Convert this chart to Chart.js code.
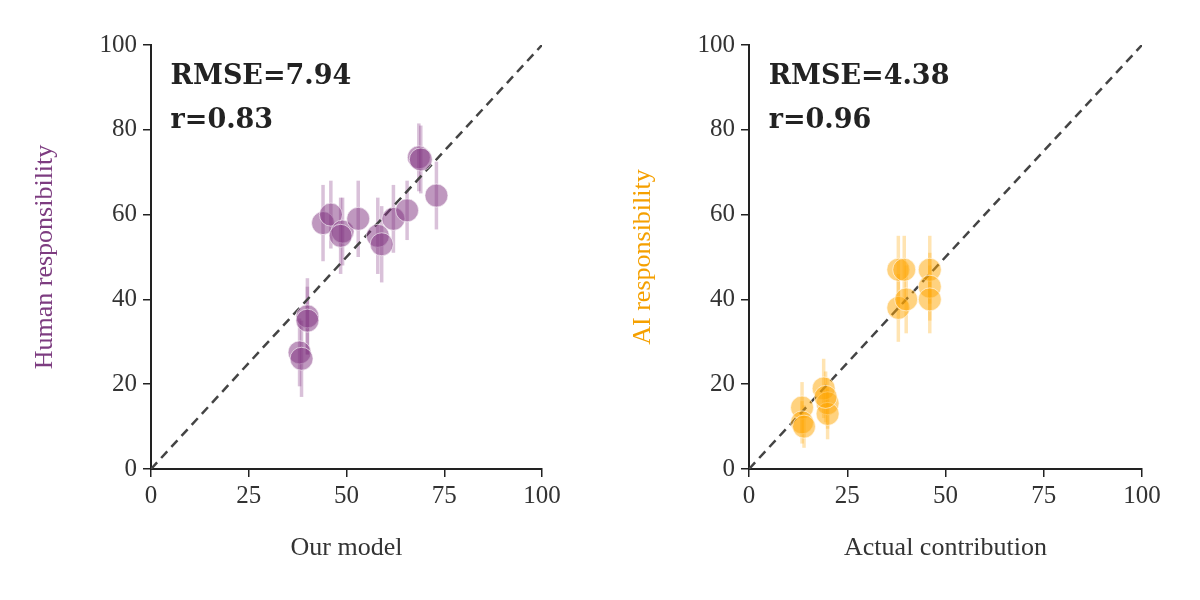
<!DOCTYPE html>
<html><head><meta charset="utf-8">
<script src="https://cdn.jsdelivr.net/npm/chart.js@4.4.0/dist/chart.umd.min.js"></script>
<style>body{margin:0;background:#fff}.w{position:absolute;top:0;width:600px;height:600px}</style>
</head><body>
<div class="w" style="left:0"><canvas id="c1" width="600" height="600"></canvas></div>
<div class="w" style="left:600px"><canvas id="c2" width="600" height="600"></canvas></div>
<script>
const humanX=[38,38.5,40,40,44,46,49,48.5,53,58,59,62,65.5,68.5,69,73];
const humanY=[27.5,26,36,35,58,60,56,55,59,55,53,59,61,73.5,73,64.5];
const humanErr=[8,9,9,8,9,8,8,9,9,9,9,8,7,8,8,8];
const aiX=[13.5,13.5,14,19,20,20,19.5,38,39.5,38,40,46,46,46];
const aiY=[14.5,11,10,19,15.5,13,17,47,47,38,40,47,43,40];
const aiErr=[6,5,5,7,6,6,6,8,8,8,8,8,8,8];
const ticks=[0,25,50,75,100], yticks=[0,20,40,60,80,100];
const FONT="'Liberation Serif','DejaVu Serif',serif";

function make(id,xs,ys,errs,col,colA,colE,xtitle,ytitle,rmse,r,yw){
  const pts=xs.map((x,i)=>({x:x,y:ys[i]}));
  const errPlugin={id:'e',beforeDatasetsDraw(c){
    const ctx=c.ctx,sx=c.scales.x,sy=c.scales.y;ctx.save();ctx.strokeStyle=colE;ctx.lineWidth=3.5;
    xs.forEach((x,i)=>{ctx.beginPath();ctx.moveTo(sx.getPixelForValue(x),sy.getPixelForValue(ys[i]-errs[i]));
      ctx.lineTo(sx.getPixelForValue(x),sy.getPixelForValue(ys[i]+errs[i]));ctx.stroke();});
    ctx.restore();},
    afterDraw(c){const ctx=c.ctx,sx=c.scales.x,sy=c.scales.y,a=c.chartArea;ctx.save();ctx.fillStyle='#222';
      ctx.font="bold 27px 'DejaVu Serif',serif";ctx.textBaseline='middle';
      ctx.fillText('RMSE='+rmse,sx.getPixelForValue(5),sy.getPixelForValue(92.5));
      ctx.fillText('r='+r,sx.getPixelForValue(5),sy.getPixelForValue(82));
      ctx.font="26px "+FONT;ctx.textAlign='center';ctx.fillStyle='#333';
      ctx.fillText(xtitle,(a.left+a.right)/2,548);
      ctx.translate(a.left-106,(a.top+a.bottom)/2);ctx.rotate(-Math.PI/2);ctx.fillStyle=col;
      ctx.fillText(ytitle,0,0);ctx.restore();}};
  new Chart(document.getElementById(id),{type:'scatter',
    data:{datasets:[
      {data:pts,backgroundColor:colA,borderColor:'rgba(255,255,255,0.6)',borderWidth:1,pointRadius:11.5},
      {type:'line',data:[{x:0,y:0},{x:100,y:100}],borderColor:'#444',borderWidth:2.5,borderDash:[9,6],pointRadius:0}]},
    options:{responsive:false,animation:false,layout:{padding:{top:45,right:58,left:0,bottom:0}},
      plugins:{legend:{display:false},tooltip:{enabled:false}},
      scales:{
        x:{type:'linear',min:0,max:100,afterBuildTicks(a){a.ticks=ticks.map(v=>({value:v}));},
          afterFit(a){a.height=131;},
          grid:{drawOnChartArea:false,tickLength:8,color:'#222',lineWidth:1.5},border:{color:'#222',width:2},
          ticks:{color:'#333',font:{family:FONT,size:25},padding:4}},
        y:{min:0,max:100,afterBuildTicks(a){a.ticks=yticks.map(v=>({value:v}));},
          afterFit(a){a.width=yw;},
          grid:{drawOnChartArea:false,tickLength:8,color:'#222',lineWidth:1.5},border:{color:'#222',width:2},
          ticks:{color:'#333',font:{family:FONT,size:25},padding:6}}}},
    plugins:[errPlugin]});
}
make('c1',humanX,humanY,humanErr,'#7d3c80','rgba(128,50,128,0.5)','rgba(128,50,128,0.3)','Our model','Human responsibility','7.94','0.83',151);
make('c2',aiX,aiY,aiErr,'#f5a000','rgba(255,165,0,0.5)','rgba(255,165,0,0.3)','Actual contribution','AI responsibility','4.38','0.96',149);
</script></body></html>
